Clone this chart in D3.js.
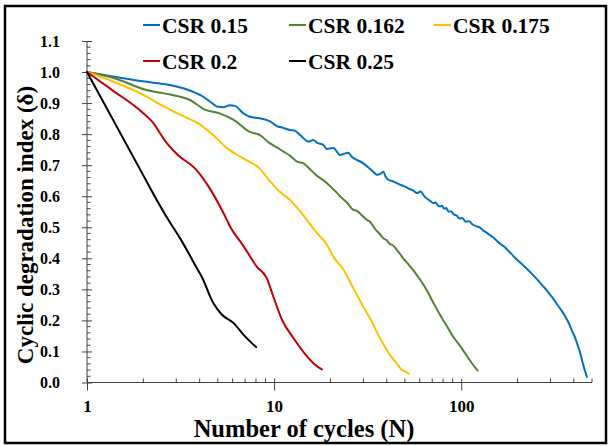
<!DOCTYPE html>
<html>
<head>
<meta charset="utf-8">
<script src="https://cdn.jsdelivr.net/npm/d3@7"></script>
<style>
  html, body { margin: 0; padding: 0; background: #fff; }
  svg { display: block; }
  text { font-family: "Liberation Serif", "Times New Roman", serif; font-weight: bold; fill: #000; }
</style>
</head>
<body>
<svg id="chart" width="609" height="446"></svg>
<script>
// Series labels and colours
const seriesNames = ["CSR 0.15", "CSR 0.162", "CSR 0.175", "CSR 0.2", "CSR 0.25"];
const seriesColors = ["#0070C0", "#548235", "#FFC000", "#C00000", "#000000"];

// Cyclic degradation index δ against number of cycles N, as [N, δ]
const csr015 = [
  [1, 1.000], [1.4, 0.985], [1.98, 0.970], [2.77, 0.958], [3.45, 0.943], [4.14, 0.922],
  [4.62, 0.902], [5.01, 0.888], [5.40, 0.887], [5.79, 0.893], [6.17, 0.891], [6.85, 0.867],
  [7.43, 0.856], [8.40, 0.851], [9.46, 0.842], [10.33, 0.826], [11.2, 0.820], [12.17, 0.813],
  [12.84, 0.812], [13.77, 0.797], [15.24, 0.776], [16.2, 0.781], [17.0, 0.772], [18.35, 0.765],
  [19.17, 0.752], [20.75, 0.755], [22.5, 0.733], [23.7, 0.737], [24.97, 0.740], [26.0, 0.727],
  [27.5, 0.718], [30.0, 0.706], [31.8, 0.693], [33.7, 0.680], [35.4, 0.669], [37.0, 0.672],
  [38.4, 0.679], [39.5, 0.662], [40.8, 0.653], [43.2, 0.648], [45.3, 0.642], [47.2, 0.637],
  [49.8, 0.632], [52.7, 0.624], [55.5, 0.618], [58.0, 0.610], [60.4, 0.615], [64.0, 0.598],
  [67.8, 0.586], [71.1, 0.578], [73, 0.580], [75, 0.571], [77.2, 0.567], [79, 0.569],
  [81, 0.560], [83, 0.562], [85.7, 0.550], [88, 0.552], [91, 0.542], [94.8, 0.537],
  [98, 0.528], [101, 0.530], [106, 0.518], [110, 0.519], [115, 0.509], [121, 0.503],
  [126, 0.499], [131, 0.490], [137, 0.482], [143, 0.474], [150, 0.465], [156, 0.455],
  [162, 0.446], [170, 0.437], [178, 0.425], [185, 0.415], [195, 0.400], [207, 0.386],
  [220, 0.371], [235, 0.354], [250, 0.337], [264, 0.321], [278, 0.306], [290, 0.293],
  [300, 0.281], [312, 0.268], [325, 0.252], [340, 0.236], [355, 0.219], [367, 0.203],
  [380, 0.185], [392, 0.165], [404, 0.148], [415, 0.128], [426, 0.108], [435, 0.090],
  [443, 0.070], [451, 0.052], [460, 0.035], [470, 0.018]
];
const csr0162 = [
  [1, 1.000], [1.4, 0.980], [2.08, 0.942], [2.87, 0.926], [3.55, 0.910], [4.23, 0.880],
  [5.11, 0.867], [6.08, 0.846], [7.43, 0.807], [8.40, 0.797], [9.46, 0.771], [10.3, 0.758],
  [11.2, 0.744], [12.2, 0.730], [13.22, 0.712], [14.38, 0.706], [15.5, 0.688], [16.86, 0.667],
  [18.0, 0.655], [19.17, 0.642], [20.5, 0.625], [21.75, 0.610], [22.5, 0.600], [24.5, 0.580],
  [26.5, 0.556], [27.7, 0.553], [29.5, 0.538], [31.3, 0.524], [32.6, 0.517], [34.6, 0.495],
  [36.5, 0.480], [38.3, 0.465], [40, 0.458], [41.3, 0.448], [43.5, 0.440], [45.1, 0.428],
  [47, 0.415], [48.9, 0.400], [51, 0.388], [53.3, 0.374], [56.5, 0.355], [60.4, 0.331],
  [65, 0.300], [71.1, 0.256], [77, 0.218], [83.9, 0.181], [90, 0.150], [98.8, 0.117],
  [106, 0.090], [114, 0.062], [122.3, 0.039]
];
const csr0175 = [
  [1, 1.000], [1.4, 0.968], [2.08, 0.921], [2.48, 0.894], [3.16, 0.862], [4.04, 0.830],
  [4.72, 0.797], [5.59, 0.755], [6.85, 0.722], [8.40, 0.688], [9.37, 0.653], [10.7, 0.615],
  [12.17, 0.588], [13.6, 0.555], [14.95, 0.524], [16.96, 0.481], [19.17, 0.444], [20.7, 0.406],
  [23.5, 0.363], [26.5, 0.304], [29.9, 0.245], [33.2, 0.197], [36.7, 0.144], [41.5, 0.090],
  [45.1, 0.062], [47.9, 0.042], [50.5, 0.035], [52.4, 0.028]
];
const csr02 = [
  [1, 1.000], [1.4, 0.937], [1.89, 0.880], [2.23, 0.840], [2.67, 0.771], [3.06, 0.733],
  [3.84, 0.685], [4.52, 0.626], [5.59, 0.524], [5.79, 0.505], [6.85, 0.440], [8.06, 0.374],
  [9.12, 0.337], [9.9, 0.277], [11.0, 0.203], [12.65, 0.144], [14.95, 0.085], [16.5, 0.058],
  [18.0, 0.042]
];
const csr025 = [
  [1, 1.000], [1.98, 0.672], [2.36, 0.588], [2.72, 0.524], [3.14, 0.465], [3.86, 0.369],
  [4.11, 0.340], [4.73, 0.256], [5.25, 0.219], [6.06, 0.192], [6.85, 0.154], [8.01, 0.114]
];
const seriesData = [csr015, csr0162, csr0175, csr02, csr025];

// Axis ticks
const yTickValues = [0, 0.1, 0.2, 0.3, 0.4, 0.5, 0.6, 0.7, 0.8, 0.9, 1.0, 1.1];
const xTickValues = [1, 10, 100];
const xMinorValues = [2, 3, 4, 5, 6, 7, 8, 9, 20, 30, 40, 50, 60, 70, 80, 90, 200, 300, 400, 500];

const svg = d3.select("#chart");
const plotLeft = 87, plotRight = 592, plotTop = 41, plotBottom = 382.5;

const x = d3.scaleLog().domain([1, 500]).range([plotLeft, plotRight]);
const y = d3.scaleLinear().domain([0, 1.1]).range([plotBottom, plotTop]);

// Outer frame
svg.append("rect")
  .attr("x", 5).attr("y", 6).attr("width", 601).attr("height", 437)
  .attr("fill", "#fff").attr("stroke", "#000").attr("stroke-width", 2.5);

const axisColor = "#404040";

// Y axis: major ticks crossing the line, minor ticks every 0.02 inside
const yAxis = svg.append("g")
  .attr("transform", `translate(${plotLeft},0)`)
  .call(d3.axisLeft(y).tickValues(yTickValues).tickSize(5).tickPadding(0)
        .tickFormat(d3.format(".1f")));
yAxis.select(".domain").attr("stroke", axisColor).attr("d", `M0,${plotTop}V${plotBottom}`);
yAxis.selectAll(".tick line").attr("stroke", axisColor).attr("x1", -5).attr("x2", 5);
yAxis.selectAll(".tick text")
  .attr("x", -27).attr("dy", "0.34em")
  .style("font-size", "16px").style("font-family", "Liberation Serif").style("font-weight", "bold");

const yMinorValues = d3.range(1, 55).map(i => i * 0.02).filter(v => Math.abs(v * 10 - Math.round(v * 10)) > 1e-6);
svg.append("g").selectAll("line").data(yMinorValues).join("line")
  .attr("x1", plotLeft).attr("x2", plotLeft + 3.5)
  .attr("y1", d => y(d)).attr("y2", d => y(d))
  .attr("stroke", axisColor).attr("stroke-width", 1);

// X axis (log): major ticks crossing, minor ticks inside
const xAxis = svg.append("g")
  .attr("transform", `translate(0,${plotBottom})`)
  .call(d3.axisBottom(x).tickValues(xTickValues).tickSize(7).tickPadding(0)
        .tickFormat(d3.format("d")));
xAxis.select(".domain").attr("stroke", axisColor).attr("d", `M${plotLeft},0H${plotRight}`);
xAxis.selectAll(".tick line").attr("stroke", axisColor).attr("y1", -4).attr("y2", 8);
xAxis.selectAll(".tick text")
  .attr("y", 29).attr("dy", 0)
  .style("font-size", "17px").style("font-family", "Liberation Serif").style("font-weight", "bold");

svg.append("g").selectAll("line").data(xMinorValues).join("line")
  .attr("x1", d => x(d)).attr("x2", d => x(d))
  .attr("y1", plotBottom).attr("y2", plotBottom - 4)
  .attr("stroke", axisColor).attr("stroke-width", 1);

// Axis titles
svg.append("text")
  .attr("x", 304).attr("y", 437)
  .attr("text-anchor", "middle")
  .style("font-size", "24.5px")
  .text("Number of cycles (N)");

svg.append("text")
  .attr("transform", "translate(33,225) rotate(-90)")
  .attr("text-anchor", "middle")
  .style("font-size", "23px")
  .text("Cyclic degradation index (δ)");

// Curves
const line = d3.line()
  .x(d => x(d[0]))
  .y(d => y(d[1]))
  .curve(d3.curveMonotoneX);

svg.append("g").selectAll("path").data(seriesData).join("path")
  .attr("d", d => line(d))
  .attr("fill", "none")
  .attr("stroke", (d, i) => seriesColors[i])
  .attr("stroke-width", 2)
  .attr("stroke-linejoin", "round")
  .attr("stroke-linecap", "round");

// Legend: two rows
const legendPos = [[143, 25], [289, 25], [434, 25], [143, 61], [289, 61]];
const legend = svg.append("g").selectAll("g").data(seriesNames).join("g")
  .attr("transform", (d, i) => `translate(${legendPos[i][0]},${legendPos[i][1]})`);
legend.append("line")
  .attr("x1", 0).attr("x2", 17).attr("y1", 0).attr("y2", 0)
  .attr("stroke", (d, i) => seriesColors[i]).attr("stroke-width", 2);
legend.append("text")
  .attr("x", 19).attr("y", 7.5)
  .style("font-size", "21.5px")
  .text(d => d);
</script>
</body>
</html>
